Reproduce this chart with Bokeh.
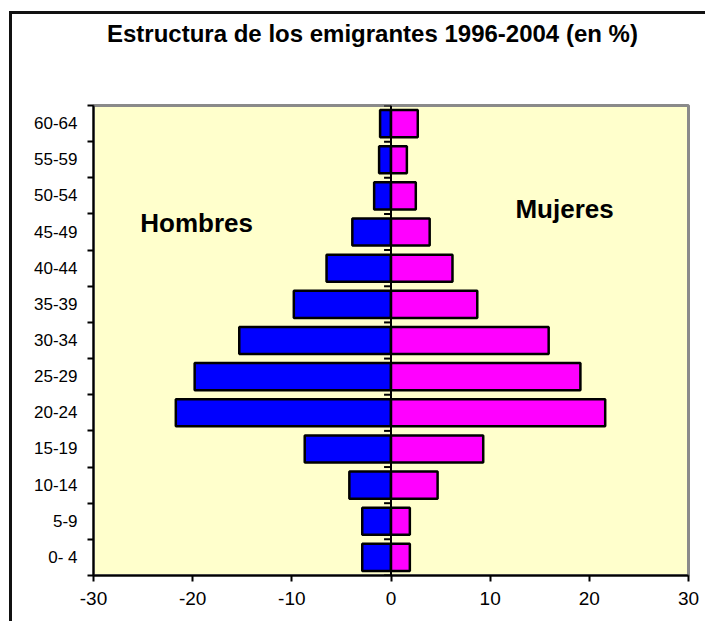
from bokeh.plotting import figure
from bokeh.models import FixedTicker, Span, Label, ColumnDataSource, Div
from bokeh.layouts import column
from bokeh.embed import file_html
from bokeh.resources import INLINE

# ---- data ----
age_groups = ["0- 4", "5-9", "10-14", "15-19", "20-24", "25-29", "30-34",
              "35-39", "40-44", "45-49", "50-54", "55-59", "60-64"]
hombres = [2.9, 2.9, 4.2, 8.7, 21.7, 19.8, 15.3, 9.8, 6.5, 3.9, 1.7, 1.2, 1.1]
mujeres = [1.9, 1.9, 4.7, 9.3, 21.6, 19.1, 15.9, 8.7, 6.2, 3.9, 2.5, 1.6, 2.7]
x_ticks = [-30, -20, -10, 0, 10, 20, 30]
title_text = "Estructura de los emigrantes 1996-2004 (en %)"

FONT = "Liberation Sans"
W, H = 693, 607
TITLE_H = 40
pos = list(range(len(age_groups)))
bounds = [i - 0.5 for i in range(len(age_groups) + 1)]

src = ColumnDataSource(dict(
    y=pos,
    h_left=[-v for v in hombres],
    m_right=mujeres,
    zero=[0] * len(pos),
))

title_div = Div(
    text=('<div style="margin-left:95px;font-family:\'Liberation Sans\';'
          'font-size:24px;font-weight:bold;line-height:%dpx;white-space:nowrap;'
          'color:black">%s</div>' % (TITLE_H, title_text)),
    width=W, height=TITLE_H, margin=0)

p = figure(width=W, height=H - TITLE_H, output_backend="svg", toolbar_location=None,
           x_range=(-30, 30), y_range=(-0.5, 12.5),
           min_border_left=81, min_border_right=17, min_border_top=91 - TITLE_H,
           min_border_bottom=46)
p.title.visible = False

p.background_fill_color = "#FFFFCC"
p.border_fill_color = "white"
p.outline_line_color = "#8a8a8a"
p.outline_line_width = 3
p.xgrid.visible = False
p.ygrid.visible = False

# bars
p.hbar(y="y", left="h_left", right="zero", height=0.75, source=src,
       fill_color="#0000FF", line_color="black", line_width=2.5)
p.hbar(y="y", left="zero", right="m_right", height=0.75, source=src,
       fill_color="#FF00FF", line_color="black", line_width=2.5)

# central axis line and its ticks
p.add_layout(Span(location=0, dimension="height", line_color="black", line_width=2))
p.segment(x0=[-0.7] * len(bounds), x1=[0] * len(bounds), y0=bounds, y1=bounds,
          line_color="black", line_width=2)

# x axis
xa = p.xaxis[0]
xa.ticker = FixedTicker(ticks=x_ticks)
xa.major_label_overrides = {t: str(t) for t in x_ticks}
xa.major_label_text_font = FONT
xa.major_label_text_font_size = "19px"
xa.major_label_text_color = "black"
xa.major_tick_out = 6
xa.major_tick_in = 0
xa.minor_tick_out = 0
xa.minor_tick_in = 0
xa.axis_line_color = "black"
xa.axis_line_width = 2
xa.major_tick_line_color = "black"
xa.major_tick_line_width = 2
xa.major_label_standoff = 10

# y axis
ya = p.yaxis[0]
ya.ticker = FixedTicker(ticks=pos, minor_ticks=bounds)
ya.major_label_overrides = {i: lab for i, lab in zip(pos, age_groups)}
ya.major_label_text_font = FONT
ya.major_label_text_font_size = "17px"
ya.major_label_text_color = "black"
ya.major_tick_out = 0
ya.major_tick_in = 0
ya.minor_tick_out = 6
ya.minor_tick_in = 0
ya.minor_tick_line_color = "black"
ya.minor_tick_line_width = 2
ya.axis_line_color = "black"
ya.axis_line_width = 2
ya.major_label_standoff = 10

# labels
p.add_layout(Label(x=-19.6, y=9.26, text="Hombres", text_align="center",
                   text_baseline="alphabetic", text_font=FONT,
                   text_font_size="26px", text_font_style="bold", text_color="black"))
p.add_layout(Label(x=17.5, y=9.63, text="Mujeres", text_align="center",
                   text_baseline="alphabetic", text_font=FONT,
                   text_font_size="26px", text_font_style="bold", text_color="black"))

layout = column(title_div, p, spacing=0,
                styles={"margin-left": "9px", "margin-top": "11px",
                        "border-left": "3px solid #111",
                        "border-top": "3px solid #111",
                        "background-color": "white"})

open("out.html", "w").write(file_html(layout, INLINE))
